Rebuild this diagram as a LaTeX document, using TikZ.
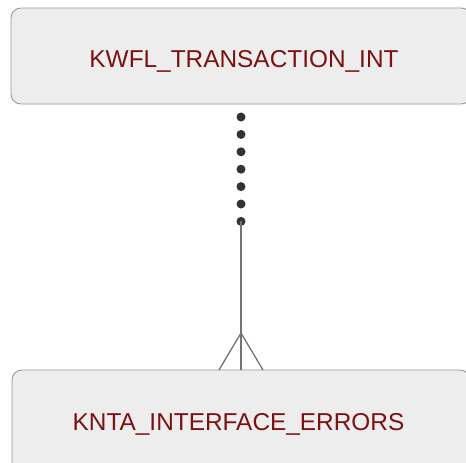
\documentclass[tikz,border=0pt]{standalone}
\usepackage{fontspec}
\setmainfont{Liberation Sans}
\begin{document}
\begin{tikzpicture}[x=1pt,y=-1pt,
  entity/.style={draw=black!40,fill=black!7,rounded corners=10pt,line width=0.9pt,
    inner sep=0pt,text depth=0pt,font=\fontsize{24.4}{28}\selectfont,text=entred},
  conn/.style={draw=black!55,line width=1.3pt},
  dotty/.style={circle,fill=black!80,inner sep=0pt,minimum size=9pt}]
\definecolor{entred}{HTML}{7A1212}
\useasboundingbox (0,0) rectangle (466,463);
\clip (0,0) rectangle (466,463);
\node[entity,minimum width=460pt,minimum height=96pt] (top) at (241,56) {\hspace*{6pt}\raisebox{-5pt}{KWFL\_TRANSACTION\_INT}};
\node[entity,minimum width=458pt,minimum height=104pt] (bot) at (241,422) {\hspace*{-5pt}KNTA\_INTERFACE\_ERRORS};
\foreach \i in {0,...,6} {
  \node[dotty] (d\i) at (241,{117+17.4*\i}) {};
}
\coordinate (apex) at (241,333);
\coordinate (fl) at (219,370);
\coordinate (fr) at (263,370);
\draw[conn] (d6.center) -- (bot.north);
\draw[conn] (fl) -- (apex) -- (fr);
\end{tikzpicture}
\end{document}
